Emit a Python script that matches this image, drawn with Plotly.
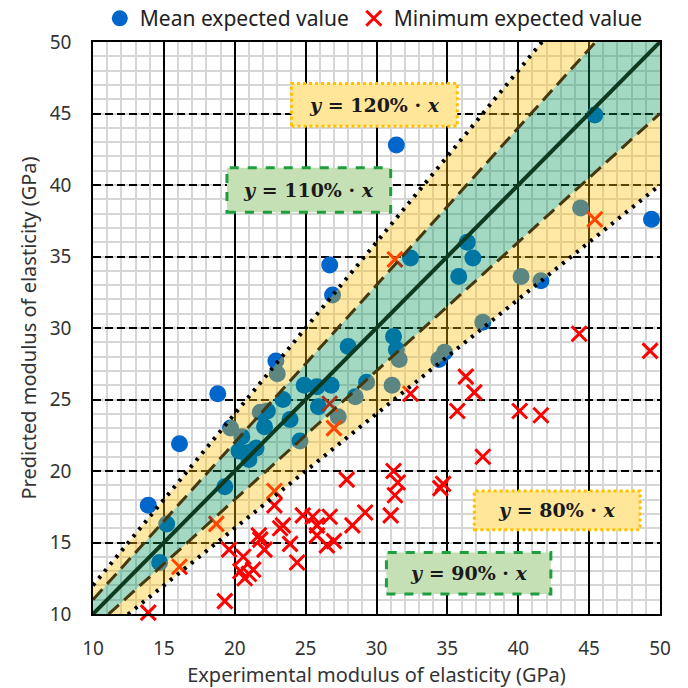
import plotly.graph_objects as go

# Mean expected value (experimental, predicted) in GPa
mean_exp = [13.9, 14.7, 15.2, 16.1, 18.8, 19.3, 19.7, 20.3, 20.5, 21.0, 21.0, 21.5, 21.8,
            22.1, 22.3, 22.9, 23.0, 23.4, 23.9, 24.6, 24.9, 25.8, 25.9, 26.7, 26.8, 26.9,
            27.3, 28.0, 28.5, 29.3, 31.2, 31.4, 31.1, 31.4, 31.6, 32.4, 34.4, 34.8, 35.8,
            36.4, 36.8, 37.5, 40.2, 41.6, 44.4, 45.4, 49.4]
mean_pred = [17.6, 13.6, 16.3, 21.9, 25.4, 18.9, 23.0, 21.4, 22.4, 20.8, 21.3, 21.6, 24.1,
             23.1, 24.2, 27.7, 26.8, 25.0, 23.6, 22.1, 26.0, 25.9, 24.5, 34.4, 26.0, 32.3,
             23.8, 28.7, 25.2, 26.2, 29.4, 42.8, 26.0, 28.5, 27.8, 34.9, 27.8, 28.3, 33.6,
             36.0, 34.9, 30.4, 33.6, 33.3, 38.4, 44.9, 37.6]

# Minimum expected value (experimental, predicted) in GPa
min_exp = [13.9, 16.1, 18.7, 19.3, 19.6, 20.4, 20.6, 20.7, 21.0, 21.3, 21.7, 21.8, 22.1,
           22.8, 22.8, 23.2, 23.4, 23.9, 24.4, 24.8, 25.5, 25.8, 25.8, 26.5, 26.7, 26.7,
           27.0, 27.0, 27.9, 28.3, 29.2, 31.0, 31.2, 31.5, 31.3, 31.3, 32.4, 34.5, 34.7,
           35.7, 36.3, 36.9, 37.5, 40.1, 41.6, 44.3, 45.4, 49.3]
min_pred = [10.1, 13.3, 16.3, 10.9, 14.5, 13.0, 14.0, 12.5, 12.8, 13.1, 15.5, 15.2, 14.5,
            18.6, 17.6, 16.0, 16.2, 14.9, 13.6, 16.9, 16.8, 16.2, 15.5, 14.8, 16.8, 24.7,
            15.1, 23.0, 19.4, 16.2, 17.1, 16.9, 20.0, 19.2, 18.3, 34.8, 25.4, 18.8, 19.1,
            24.2, 26.6, 25.5, 21.0, 24.2, 23.9, 29.6, 37.6, 28.4]

# Reference ratio lines y = k * x
line_x = [10, 50]
ratios_solid = [1.0]
ratios_dash = [1.1, 0.9]
ratios_dot = [1.2, 0.8]

axis_ticks = [10, 15, 20, 25, 30, 35, 40, 45, 50]

# Label boxes: (text, x0, x1, y0, y1, fill, border, dash)
labels = [
    ("<b><i>y</i> = 120% · <i>x</i></b>", 24.0, 35.7, 44.1, 47.1, "#FFE699", "#FFC000", "dot"),
    ("<b><i>y</i> = 110% · <i>x</i></b>", 19.45, 31.0, 38.1, 41.2, "#C5E0B4", "#1E9E3E", "dash"),
    ("<b><i>y</i> = 80% · <i>x</i></b>", 36.9, 48.6, 15.9, 18.6, "#FFE699", "#FFC000", "dot"),
    ("<b><i>y</i> = 90% · <i>x</i></b>", 30.7, 42.3, 11.4, 14.3, "#C5E0B4", "#1E9E3E", "dash"),
]

fig = go.Figure()

fig.add_trace(go.Scatter(
    x=mean_exp, y=mean_pred, mode="markers", name="Mean expected value",
    marker=dict(symbol="circle", size=17, color="#0066CC"), cliponaxis=False))
fig.add_trace(go.Scatter(
    x=min_exp, y=min_pred, mode="markers", name="Minimum expected value",
    marker=dict(symbol="x-thin", size=15, color="#FF0000",
                line=dict(color="#FF0000", width=3)), cliponaxis=False))

# Tolerance bands (drawn over the markers, semi-transparent)
def band(lo, hi, color):
    xs = [line_x[0], line_x[1], line_x[1], line_x[0], line_x[0]]
    ys = [lo * line_x[0], lo * line_x[1], hi * line_x[1], hi * line_x[0], lo * line_x[0]]
    fig.add_trace(go.Scatter(x=xs, y=ys, mode="lines", fill="toself", fillcolor=color,
                             line=dict(width=0), hoverinfo="skip", showlegend=False))

band(0.8, 0.9, "rgba(255,192,0,0.36)")
band(1.1, 1.2, "rgba(255,192,0,0.36)")
band(0.9, 1.1, "rgba(0,150,90,0.36)")

for k in ratios_dot:
    fig.add_trace(go.Scatter(x=line_x, y=[k * v for v in line_x], mode="lines",
                             line=dict(color="black", width=4, dash="3px,6px"),
                             hoverinfo="skip", showlegend=False))
for k in ratios_dash:
    fig.add_trace(go.Scatter(x=line_x, y=[k * v for v in line_x], mode="lines",
                             line=dict(color="#45380F", width=3, dash="14px,7px"),
                             hoverinfo="skip", showlegend=False))
for k in ratios_solid:
    fig.add_trace(go.Scatter(x=line_x, y=[k * v for v in line_x], mode="lines",
                             line=dict(color="#0E3B20", width=4),
                             hoverinfo="skip", showlegend=False))

for text, x0, x1, y0, y1, fill, border, dash in labels:
    fig.add_shape(type="rect", x0=x0, x1=x1, y0=y0, y1=y1, xref="x", yref="y",
                  fillcolor=fill, line=dict(color=border, width=3, dash=dash), layer="above")
    fig.add_annotation(x=(x0 + x1) / 2, y=(y0 + y1) / 2, text=text, showarrow=False,
                       font=dict(family="DejaVu Serif", size=19, color="#1a1a1a"))

axis_common = dict(
    range=[10, 50], tickvals=axis_ticks, showline=True, mirror=True,
    linecolor="black", linewidth=1.5, gridcolor="black", gridwidth=1.5,
    minor=dict(dtick=1, tick0=10, showgrid=True, gridcolor="#D6D6D6", gridwidth=2,
               griddash="solid"),
    tickfont=dict(family="Noto Sans", size=19, color="#333333"),
    ticklabelstandoff=16, zeroline=False, fixedrange=True, automargin=False,
)

fig.update_xaxes(**axis_common, griddash="solid",
                 title=dict(text="Experimental modulus of elasticity (GPa)",
                            font=dict(family="Noto Sans", size=20, color="#333333"),
                            standoff=4))
fig.update_yaxes(**axis_common, griddash="8px,4px",
                 title=dict(text="Predicted modulus of elasticity (GPa)",
                            font=dict(family="Noto Sans", size=20, color="#333333"),
                            standoff=8))

fig.update_layout(
    width=688, height=688,
    margin=dict(l=93, r=28, t=42, b=74, autoexpand=False),
    plot_bgcolor="white", paper_bgcolor="white",
    legend=dict(orientation="h", x=0.012, xanchor="left", y=1.005, yanchor="bottom",
                font=dict(family="Noto Sans", size=21, color="#222222"),
                itemwidth=30, tracegroupgap=0, bgcolor="rgba(0,0,0,0)"),
    showlegend=True,
)

fig.write_html("out.html")
